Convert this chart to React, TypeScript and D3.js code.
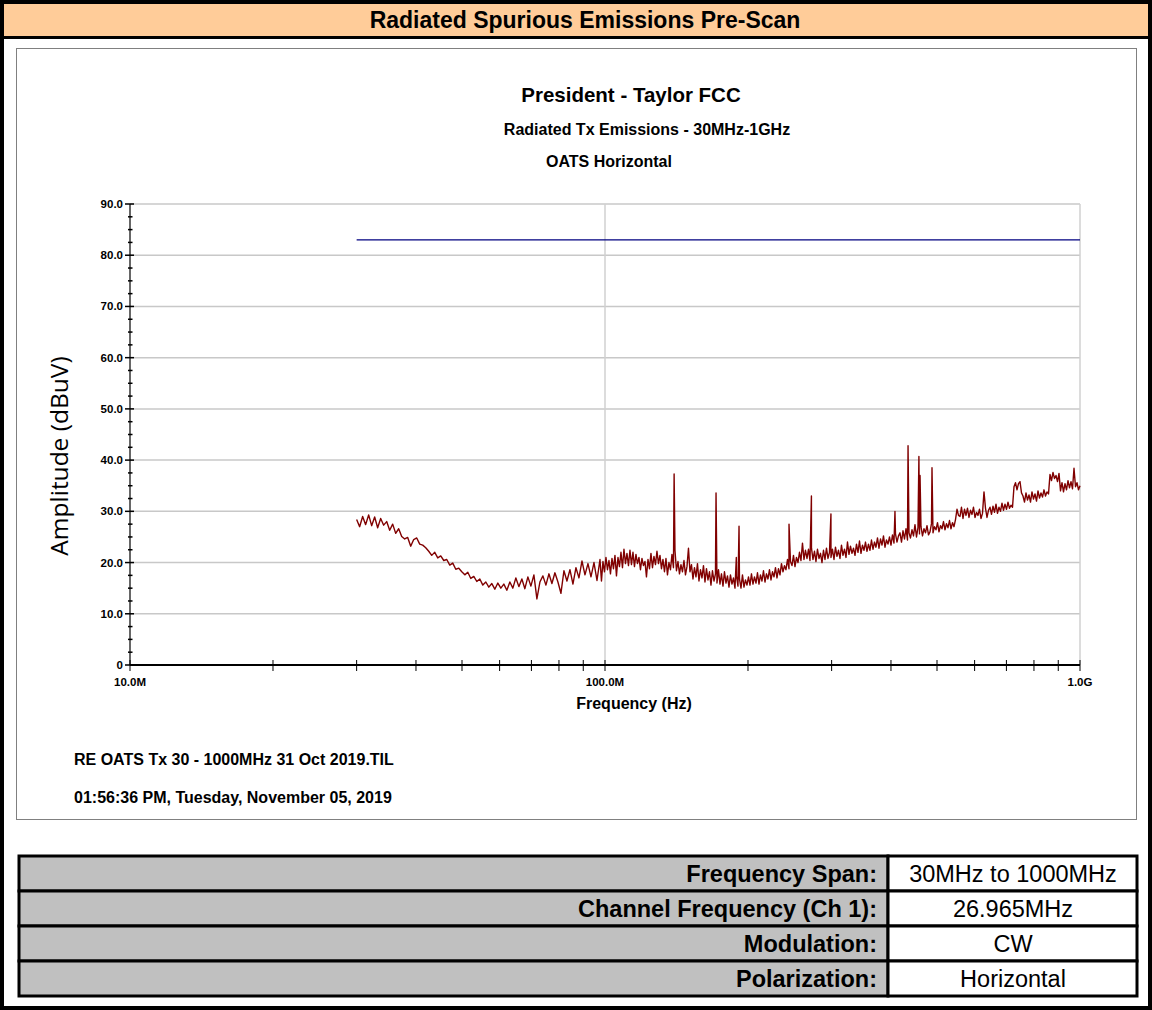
import React from "react";
import * as d3 from "d3";

// low band of the sweep, 30 MHz .. 97.6 MHz, read every ~3px
const lowStartMHz = 30;
const lowStopMHz = 97.6;
const lowBandDbuv = [
  28.4, 27.0, 29.0, 27.4, 29.3, 27.2, 28.9, 26.8, 28.6, 27.3,
  28.0, 26.3, 27.5, 25.7, 26.6, 25.1, 24.6, 24.9, 23.2, 24.5,
  24.8, 23.6, 23.4, 22.9, 22.2, 21.4, 22.0, 20.9, 21.3, 20.4,
  20.6, 19.5, 19.9, 18.7, 18.9, 18.2, 17.6, 18.1, 16.9, 17.3,
  16.3, 16.8, 15.6, 16.2, 15.2, 15.9, 14.8, 16.0, 15.0, 15.8,
  14.6, 16.2, 15.0, 17.0, 15.3, 16.8, 14.9, 17.2, 15.4, 17.6,
  12.9, 16.2, 17.4, 15.6, 17.8, 15.9, 18.0, 16.2, 14.0, 18.4,
  16.4, 18.6, 15.8, 19.0, 17.0, 20.3, 17.6, 19.8, 17.2, 20.0,
  16.5, 20.6,
];

// high band, 98.3 MHz .. 1 GHz, read every ~1.5px (denser noise floor)
const highStartMHz = 98.3;
const highStopMHz = 1000;
const highBandDbuv = [
  16.4, 20.2, 18.2, 21.0, 18.6, 20.4, 17.8, 20.8, 18.8, 21.4, 17.4, 21.0, 19.2, 22.0, 19.0, 22.6, 19.8, 21.8, 19.4,
  22.4, 19.6, 22.0, 19.2, 21.6, 19.8, 21.0, 18.6, 20.8, 19.4, 20.2, 17.2, 20.6, 18.8, 21.8, 19.0, 21.2, 19.6, 22.2, 19.8,
  21.4, 18.8, 20.6, 18.2, 20.8, 17.6, 20.0, 18.6, 21.6, 19.0, 22.4, 18.4, 20.2, 17.8, 19.6, 18.2, 20.4, 17.6, 19.2, 22.8,
  18.2, 19.6, 16.8, 19.0, 17.2, 19.8, 16.4, 18.6, 17.0, 19.4, 16.2, 18.8, 16.6, 18.2, 15.6, 18.4, 16.4, 17.8, 16.0, 18.6,
  15.8, 17.8, 15.4, 18.2, 16.0, 17.4, 15.2, 17.6, 15.8, 17.0, 15.0, 17.4, 15.4, 16.8, 15.0, 17.6, 15.2, 16.6, 15.6, 17.2,
  15.6, 17.8, 15.8, 17.2, 16.0, 18.0, 15.8, 17.6, 16.4, 18.4, 16.2, 17.8, 16.8, 18.6, 16.6, 18.2, 17.2, 19.0, 17.0, 18.8,
  17.6, 19.8, 18.2, 19.4, 18.6, 20.6, 18.8, 20.2, 19.4, 21.4, 19.2, 21.0, 20.0, 22.0, 20.4, 23.8, 20.6, 22.4, 20.8, 22.6,
  20.4, 22.8, 20.6, 22.2, 20.2, 22.6, 20.8, 21.8, 20.0, 22.4, 20.6, 22.8, 20.8, 22.0, 21.0, 22.6, 20.6, 23.0, 21.2, 22.4,
  20.8, 23.4, 21.4, 22.6, 21.0, 24.0, 21.6, 23.2, 21.8, 22.8, 21.4, 23.6, 22.0, 24.2, 21.8, 23.4, 22.4, 24.0, 22.2, 23.6,
  22.4, 24.4, 22.6, 24.0, 23.0, 24.8, 22.8, 24.6, 23.4, 25.2, 23.0, 24.4, 23.6, 25.0, 23.4, 25.4, 23.8, 25.6, 24.0, 25.2,
  25.8, 24.0, 26.2, 24.6, 26.6, 24.4, 25.8, 24.8, 26.4, 25.2, 27.4, 25.0, 26.8, 25.6, 27.0, 25.2, 26.6, 25.8, 27.2, 25.4,
  26.0, 27.6, 25.8, 27.0, 26.4, 27.8, 26.0, 27.2, 26.6, 28.0, 26.4, 27.6, 26.8, 28.2, 26.6, 27.8, 27.0, 28.4, 30.4, 29.2,
  29.0, 30.8, 28.6, 30.4, 29.2, 30.6, 28.8, 30.2, 29.4, 30.8, 28.8, 29.8, 29.2, 30.4, 28.6, 29.6, 33.8, 30.6, 28.8, 30.2,
  30.8, 29.4, 31.0, 29.8, 31.4, 29.6, 30.8, 30.0, 31.6, 30.2, 31.4, 30.4, 31.8, 30.6, 31.2, 30.8, 34.8, 35.6, 34.2, 35.4,
  35.8, 33.6, 33.0, 31.8, 33.6, 32.2, 33.2, 31.8, 33.8, 32.4, 33.4, 32.0, 34.0, 32.6, 33.6, 32.8, 34.2, 33.0, 33.8, 33.4,
  37.2, 36.0, 37.6, 36.4, 37.0, 35.8, 37.4, 34.0, 35.6, 33.8, 35.4, 34.2, 36.0, 34.6, 35.8, 34.4, 38.4, 34.8, 35.6, 34.2,
  35.0,
];

// narrow emissions sitting on top of the noise floor
const spikeMHz = [139.8, 171.3, 189.0, 191.5, 244, 272, 299, 407.8, 434.5, 458, 460.5, 488];
const spikeDbuv = [37.3, 33.6, 21.0, 27.1, 27.5, 33.0, 29.5, 30.0, 42.8, 40.7, 37.0, 38.5];

const limitMHz = [30, 1000];
const limitDbuv = [83, 83];

const yTicks = [0, 10, 20, 30, 40, 50, 60, 70, 80, 90];
const yTickLabels = ["0", "10.0", "20.0", "30.0", "40.0", "50.0", "60.0", "70.0", "80.0", "90.0"];
const xMajor = [10, 100, 1000];
const xMajorLabels = ["10.0M", "100.0M", "1.0G"];
const xMinor = [20, 30, 40, 50, 60, 70, 80, 90, 200, 300, 400, 500, 600, 700, 800, 900];

const tableLabels = ["Frequency Span:", "Channel Frequency (Ch 1):", "Modulation:", "Polarization:"];
const tableValues = ["30MHz to 1000MHz", "26.965MHz", "CW", "Horizontal"];

const FONT = "'Liberation Sans', Arial, sans-serif";

type Pt = { f: number; v: number };

// sweep points are evenly spaced on the log frequency axis
function band(start: number, stop: number, vals: number[]): Pt[] {
  const n = vals.length;
  return vals.map((v, i) => ({ f: start * Math.pow(stop / start, i / (n - 1)), v }));
}

export default function App() {
  const x = d3.scaleLog().domain([10, 1000]).range([130, 1080]);
  const y = d3.scaleLinear().domain([0, 90]).range([665, 204]);

  const spikes = spikeMHz.map((f, i) => ({ f, v: spikeDbuv[i] }));
  const points = [
    ...band(lowStartMHz, lowStopMHz, lowBandDbuv),
    ...band(highStartMHz, highStopMHz, highBandDbuv),
    ...spikes,
  ].sort((a, b) => a.f - b.f);

  const line = d3
    .line<Pt>()
    .x((d) => x(d.f))
    .y((d) => y(d.v));

  const limit = limitMHz.map((f, i) => ({ f, v: limitDbuv[i] }));

  const minorY = d3.range(0, 90.01, 2.5).filter((v) => v % 10 !== 0);

  const rowTop = 856;
  const rowH = 35;

  return (
    <svg
      width={1152}
      height={1010}
      style={{ position: "absolute", left: 0, top: 0 }}
      fontFamily={FONT}
    >
      <rect x={0} y={0} width={1152} height={1010} fill="#fff" />
      {/* header band */}
      <rect x={2} y={2} width={1148} height={35} fill="#FFCC99" />
      <line x1={0} x2={1152} y1={37.5} y2={37.5} stroke="#000" strokeWidth={3} />
      <rect x={2} y={2} width={1148} height={1006} fill="none" stroke="#000" strokeWidth={4} />
      <text x={585} y={28} textAnchor="middle" fontSize={23} fontWeight="bold">
        Radiated Spurious Emissions Pre-Scan
      </text>

      {/* chart panel */}
      <rect x={16.5} y={48.5} width={1120} height={771} fill="#fff" stroke="#808080" strokeWidth={1} />
      <text x={631} y={102} textAnchor="middle" fontSize={20.5} fontWeight="bold">
        President - Taylor FCC
      </text>
      <text x={647} y={135} textAnchor="middle" fontSize={16} fontWeight="bold">
        Radiated Tx Emissions - 30MHz-1GHz
      </text>
      <text x={609} y={167} textAnchor="middle" fontSize={16} fontWeight="bold">
        OATS Horizontal
      </text>

      {/* grid */}
      {yTicks.slice(1).map((t) => (
        <line key={"gy" + t} x1={130} x2={1080} y1={y(t)} y2={y(t)} stroke="#c8c8c8" strokeWidth={1.5} />
      ))}
      {xMajor.slice(1).map((t) => (
        <line key={"gx" + t} x1={x(t)} x2={x(t)} y1={204} y2={665} stroke="#d0d0d0" strokeWidth={1.5} />
      ))}

      {/* axes */}
      <line x1={130} x2={130} y1={204} y2={665} stroke="#000" strokeWidth={1.2} />
      <line x1={130} x2={1080} y1={665} y2={665} stroke="#000" strokeWidth={2} />
      {yTicks.map((t, i) => (
        <g key={"yt" + t}>
          <line x1={125} x2={134} y1={y(t)} y2={y(t)} stroke="#000" strokeWidth={1.5} />
          <text x={123} y={y(t) + 4} textAnchor="end" fontSize={11.5} fontWeight="bold">
            {yTickLabels[i]}
          </text>
        </g>
      ))}
      {minorY.map((t) => (
        <line key={"ym" + t} x1={128} x2={132.5} y1={y(t)} y2={y(t)} stroke="#000" strokeWidth={1.5} />
      ))}
      {xMinor.map((t) => (
        <line key={"xm" + t} x1={x(t)} x2={x(t)} y1={660} y2={671} stroke="#000" strokeWidth={1} />
      ))}
      {xMajor.map((t, i) => (
        <g key={"xt" + t}>
          <line x1={x(t)} x2={x(t)} y1={660} y2={671} stroke="#000" strokeWidth={1} />
          <text x={x(t)} y={686} textAnchor="middle" fontSize={11.5} fontWeight="bold">
            {xMajorLabels[i]}
          </text>
        </g>
      ))}
      <text x={634} y={709} textAnchor="middle" fontSize={16} fontWeight="bold">
        Frequency (Hz)
      </text>
      <text
        transform="translate(68,456) rotate(-90)"
        textAnchor="middle"
        fontSize={24.5}
        fontFamily="'Open Sans', sans-serif"
      >
        Amplitude (dBuV)
      </text>

      {/* limit and trace */}
      <path d={line(limit) || ""} fill="none" stroke="#000080" strokeWidth={1.3} />
      <path d={line(points) || ""} fill="none" stroke="#800000" strokeWidth={1.4} strokeLinejoin="round" />

      {/* footer */}
      <text x={74} y={765} fontSize={16} fontWeight="bold">
        RE OATS Tx 30 - 1000MHz 31 Oct 2019.TIL
      </text>
      <text x={74} y={803} fontSize={16} fontWeight="bold">
        01:56:36 PM, Tuesday, November 05, 2019
      </text>

      {/* parameter table */}
      {tableLabels.map((lab, i) => {
        const top = rowTop + i * rowH;
        return (
          <g key={lab}>
            <rect x={19} y={top} width={869} height={rowH} fill="#C0C0C0" stroke="#000" strokeWidth={3} />
            <rect x={888} y={top} width={249} height={rowH} fill="#fff" stroke="#000" strokeWidth={3} />
            <text x={877} y={top + 26} textAnchor="end" fontSize={23.5} fontWeight="bold">
              {lab}
            </text>
            <text x={1013} y={top + 26} textAnchor="middle" fontSize={23.5}>
              {tableValues[i]}
            </text>
          </g>
        );
      })}
    </svg>
  );
}
